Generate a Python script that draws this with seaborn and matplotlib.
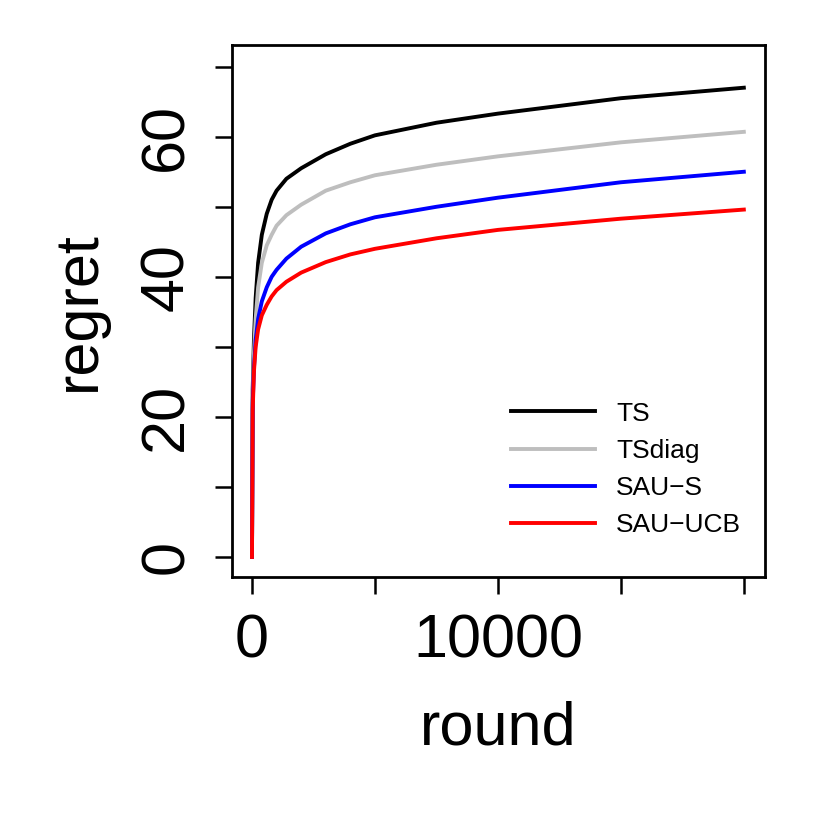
import matplotlib
matplotlib.use("Agg")
import matplotlib.pyplot as plt
import seaborn as sns
import pandas as pd

plt.rcParams["font.family"] = "Liberation Sans"

rounds = [0, 30, 80, 150, 250, 400, 600, 800, 1000, 1400, 2000, 3000, 4000, 5000, 7500, 10000, 15000, 20000]
ts = [0, 24, 31, 37, 42, 46, 49, 51, 52.3, 54, 55.5, 57.5, 59, 60.2, 62, 63.3, 65.5, 67]
tsdiag = [0, 23, 29, 34, 38.5, 42, 44.5, 46, 47.3, 48.8, 50.3, 52.3, 53.5, 54.5, 56, 57.2, 59.2, 60.7]
saus = [0, 22, 27, 31, 34, 36.5, 38.5, 40, 41, 42.6, 44.3, 46.2, 47.5, 48.5, 50, 51.3, 53.5, 55]
sauucb = [0, 21, 26.5, 30, 32.5, 34.5, 36, 37.2, 38.1, 39.3, 40.6, 42.1, 43.2, 44, 45.5, 46.7, 48.3, 49.6]
series = ["TS", "TSdiag", "SAU\u2212S", "SAU\u2212UCB"]
colors = ["black", "#bebebe", "blue", "red"]

rows = []
for name, vals in zip(series, [ts, tsdiag, saus, sauucb]):
    for r, v in zip(rounds, vals):
        rows.append({"round": r, "regret": v, "method": name})
df = pd.DataFrame(rows)

fig = plt.figure(figsize=(8.3, 8.3), dpi=100)
ax = fig.add_axes([0.2795, 0.3048, 0.642, 0.641])
sns.lineplot(data=df, x="round", y="regret", hue="method", palette=colors,
             hue_order=series, linewidth=2.8, ax=ax, legend=True)
ax.set_xlim(-813, 20854)
ax.set_ylim(-2.86, 73.1)
ax.set_xticks([0, 5000, 10000, 15000, 20000])
ax.set_xticklabels(["0", "", "10000", "", ""])
ax.set_yticks(range(0, 80, 10))
ax.set_yticklabels(["0", "", "20", "", "40", "", "60", ""], rotation=90, va="center")
ax.tick_params(labelsize=44, length=12, width=1.8, pad=14)
for s in ax.spines.values():
    s.set_linewidth(2)
ax.set_xlabel("round", fontsize=44, labelpad=22)
ax.set_ylabel("regret", fontsize=44, labelpad=22)
leg = ax.legend(frameon=False, fontsize=19, loc="lower right", handlelength=3.2,
                bbox_to_anchor=(1.0, 0.03), labelspacing=0.5)
for l in leg.get_lines():
    l.set_linewidth(2.8)
fig.savefig("out.png", dpi=100)
